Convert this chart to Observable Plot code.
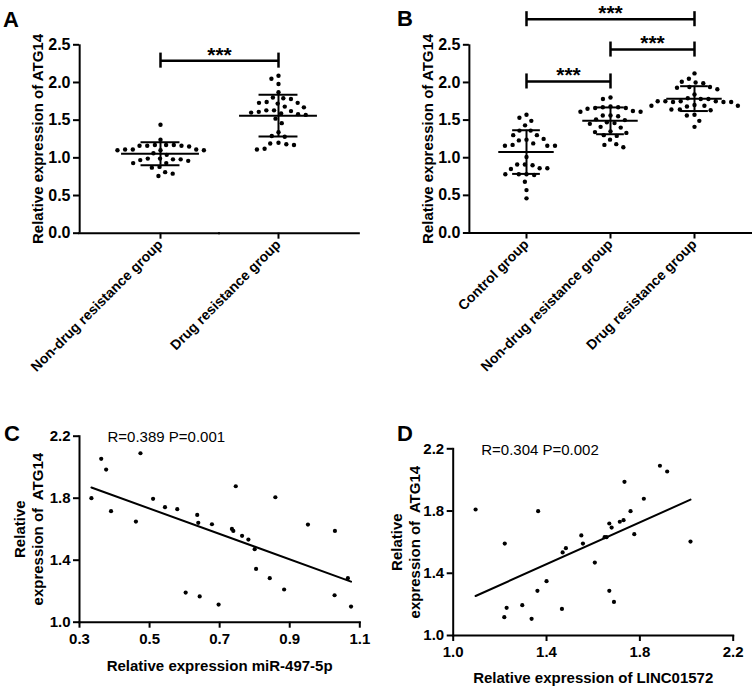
<!DOCTYPE html>
<html>
<head>
<meta charset="utf-8">
<script src="https://cdn.jsdelivr.net/npm/d3@7"></script>
<script src="https://cdn.jsdelivr.net/npm/@observablehq/plot@0.6"></script>
<style>
  body { margin: 0; background: #fff; }
  #root { position: relative; width: 752px; height: 686px; background: #fff; overflow: hidden;
          font-family: "Liberation Sans", Arial, Helvetica, sans-serif; }
  .panel { position: absolute; }
  .letter { position: absolute; font-weight: bold; font-size: 22px; line-height: 1; color: #000; }
</style>
</head>
<body>
<div id="root"></div>
<script>
// ---------------- DATA ----------------
// Panel A
const groupsA = ["Non-drug resistance group", "Drug resistance group"];
const nonDrugA = [1.44, 1.24, 1.17, 1.17, 1.17, 1.16, 1.16, 1.16, 1.15, 1.11, 1.11, 1.11, 1.10, 1.10, 1.10,
                  1.06, 1.04, 0.99, 0.99, 0.98, 0.98, 0.97, 0.96, 0.93, 0.93, 0.88, 0.87, 0.81, 0.79, 0.76];
const drugA = [2.09, 2.05, 1.98, 1.87, 1.80, 1.79, 1.78, 1.74, 1.73, 1.73, 1.72, 1.68, 1.67, 1.63, 1.63, 1.62,
               1.61, 1.60, 1.59, 1.58, 1.57, 1.52, 1.46, 1.34, 1.29, 1.28, 1.20, 1.19, 1.18, 1.17, 1.12, 1.11];
const meanA = [1.055, 1.56];
const sdA = [0.152, 0.277];
const sigFromA = [0];
const sigToA = [1];
const sigYA = [2.29];
const sigLabelA = ["***"];

// Panel B
const groupsB = ["Control group", "Non-drug resistance group", "Drug resistance group"];
const controlB = [1.57, 1.53, 1.49, 1.43, 1.36, 1.36, 1.30, 1.30, 1.24, 1.23, 1.25, 1.19, 1.17, 1.16, 1.16,
                  1.16, 1.01, 0.91, 0.90, 0.91, 0.86, 0.85, 0.86, 0.78, 0.78, 0.77, 0.78, 0.68, 0.57, 0.46];
const nonDrugB = [1.80, 1.78, 1.68, 1.67, 1.67, 1.66, 1.66, 1.65, 1.62, 1.61, 1.61, 1.56, 1.56, 1.55, 1.51,
                  1.50, 1.47, 1.46, 1.45, 1.41, 1.40, 1.35, 1.34, 1.33, 1.30, 1.29, 1.24, 1.18, 1.17, 1.14];
const drugB = [2.12, 2.05, 2.00, 1.99, 2.01, 1.94, 1.94, 1.93, 1.91, 1.84, 1.79, 1.78, 1.78, 1.75, 1.75, 1.74,
               1.74, 1.75, 1.74, 1.75, 1.70, 1.69, 1.69, 1.68, 1.69, 1.64, 1.63, 1.64, 1.57, 1.56, 1.49, 1.41];
const meanB = [1.075, 1.49, 1.785];
const sdB = [0.29, 0.178, 0.165];
const sigFromB = [0, 1, 0];
const sigToB = [2, 2, 1];
const sigYB = [2.84, 2.437, 2.013];
const sigLabelB = ["***", "***", "***"];

const yTicksAB = [0, 0.5, 1, 1.5, 2, 2.5];
const yLabelAB = "Relative expression of ATG14";

// Panel C
const cX = [0.334, 0.362, 0.376, 0.390, 0.474, 0.461, 0.510, 0.544, 0.579, 0.636, 0.639, 0.678, 0.735, 0.739, 0.746,
            0.764, 0.782, 0.800, 0.804, 0.859, 0.843, 0.884, 0.952, 1.029, 1.066, 1.028, 1.075, 0.603, 0.643, 0.697];
const cY = [1.800, 2.054, 1.985, 1.716, 2.090, 1.649, 1.796, 1.742, 1.729, 1.692, 1.641, 1.632, 1.602, 1.589, 1.877,
            1.557, 1.533, 1.471, 1.344, 1.806, 1.284, 1.211, 1.630, 1.589, 1.284, 1.174, 1.101, 1.191, 1.166, 1.114];
const cXTicks = [0.3, 0.5, 0.7, 0.9, 1.1];
const cYTicks = [1.0, 1.4, 1.8, 2.2];
const cXLabel = "Relative expression miR-497-5p";
const cStat = "R=0.389 P=0.001";

// Panel D
const dX = [1.096, 1.221, 1.219, 1.229, 1.296, 1.336, 1.364, 1.361, 1.400, 1.469, 1.483, 1.466, 1.549, 1.556, 1.607,
            1.649, 1.657, 1.669, 1.679, 1.714, 1.730, 1.734, 1.760, 1.776, 1.817, 1.886, 1.917, 2.017, 1.669, 1.689];
const dY = [1.810, 1.591, 1.118, 1.178, 1.195, 1.107, 1.799, 1.287, 1.349, 1.534, 1.561, 1.171, 1.643, 1.591, 1.469,
            1.632, 1.632, 1.720, 1.694, 1.731, 1.741, 1.988, 1.799, 1.651, 1.879, 2.091, 2.054, 1.604, 1.287, 1.216];
const dXTicks = [1.0, 1.4, 1.8, 2.2];
const dYTicks = [1.0, 1.4, 1.8, 2.2];
const dXLabel = "Relative expression of LINC01572";
const dStat = "R=0.304 P=0.002";

const yLabelCD = "Relative\nexpression of\u00a0 ATG14";

// ---------------- RENDERING ----------------
const FONT = '"Liberation Sans", Arial, Helvetica, sans-serif';
const root = document.getElementById("root");

function place(node, left, top) {
  node.classList.add("panel");
  node.style.left = left + "px";
  node.style.top = top + "px";
  root.appendChild(node);
}
function letter(txt, left, top) {
  const d = document.createElement("div");
  d.className = "letter";
  d.textContent = txt;
  d.style.left = left + "px";
  d.style.top = top + "px";
  root.appendChild(d);
}

function groupPanel(cfg) {
  const {groups, values, means, sds, sigFrom, sigTo, sigY, sigLabel,
         width, height, marginLeft, marginRight, marginTop, marginBottom, paddingOuter} = cfg;
  const n = groups.length;
  const dots = groups.flatMap((g, i) => values[i].map(v => ({group: g, value: v})));
  const summary = groups.map((g, i) => ({group: g, mean: means[i], sd: sds[i]}));
  const sig = sigFrom.map((f, k) => ({
    group: groups[f], x1: 0.5, x2: 0.5 + (sigTo[k] - f), xm: 0.5 + (sigTo[k] - f) / 2,
    y: sigY[k], label: sigLabel[k]
  }));
  // axis lines, expressed in facet-band units (band = 1 step, outer padding = paddingOuter steps)
  const baseLine = groups.map((g, i) => ({group: g,
    x1: i === 0 ? -paddingOuter : 0, x2: i === n - 1 ? 1 + paddingOuter : 1}));
  const leftLine = [{group: groups[0], x: -paddingOuter}];
  const titleRow = [{group: groups[0], label: yLabelAB}];
  const W = width - marginLeft - marginRight;
  const step = W / (n + 2 * paddingOuter);
  const axisShift = -paddingOuter * step;
  const MH = 0.33, SH = 0.165, TK = 0.1;
  return Plot.plot({
    width, height, marginLeft, marginRight, marginTop, marginBottom,
    style: {fontFamily: FONT, color: "#000", background: "transparent", overflow: "visible"},
    fx: {domain: groups, paddingInner: 0, paddingOuter, axis: null},
    x: {domain: [0, 1], axis: null},
    y: {domain: [0, 2.5], axis: null},
    marks: [
      Plot.ruleX(leftLine, {fx: "group", x: "x", y1: () => 0, y2: () => 2.5, strokeWidth: 2}),
      Plot.ruleY(baseLine, {fx: "group", y: () => 0, x1: "x1", x2: "x2", strokeWidth: 2, strokeLinecap: "square"}),
      Plot.axisY({ticks: yTicksAB, tickFormat: d => d.toFixed(1), tickSize: 6, tickPadding: 3,
                  strokeWidth: 2, fontSize: 16, fontWeight: "bold", dx: axisShift, label: null}),
      Plot.text(titleRow, {fx: "group", text: "label", frameAnchor: "left", rotate: -90,
                           textAnchor: "middle", lineAnchor: "top", dx: axisShift - 47,
                           fontSize: 15, fontWeight: "bold"}),
      Plot.axisFx({anchor: "bottom", tickRotate: -45, tickSize: 6, tickPadding: 3, strokeWidth: 2,
                   fontSize: 14, fontWeight: "bold", label: null}),
      Plot.dot(dots, Plot.dodgeX({anchor: "middle", padding: 3.3},
                                 {fx: "group", y: "value", r: 2.2, fill: "#000"})),
      Plot.ruleY(summary, {fx: "group", y: "mean", x1: () => 0.5 - MH, x2: () => 0.5 + MH, strokeWidth: 2}),
      Plot.ruleY(summary, {fx: "group", y: d => d.mean + d.sd, x1: () => 0.5 - SH, x2: () => 0.5 + SH, strokeWidth: 2}),
      Plot.ruleY(summary, {fx: "group", y: d => d.mean - d.sd, x1: () => 0.5 - SH, x2: () => 0.5 + SH, strokeWidth: 2}),
      Plot.ruleX(summary, {fx: "group", x: () => 0.5, y1: d => d.mean - d.sd, y2: d => d.mean + d.sd, strokeWidth: 2}),
      Plot.ruleY(sig, {fx: "group", y: "y", x1: "x1", x2: "x2", strokeWidth: 2.5}),
      Plot.ruleX(sig, {fx: "group", x: "x1", y1: d => d.y - TK, y2: d => d.y + TK, strokeWidth: 2.5}),
      Plot.ruleX(sig, {fx: "group", x: "x2", y1: d => d.y - TK, y2: d => d.y + TK, strokeWidth: 2.5}),
      Plot.text(sig, {fx: "group", x: "xm", y: "y", text: "label", dy: -14, lineAnchor: "top",
                      fontSize: 21, fontWeight: "bold"})
    ]
  });
}

function scatterPanel(cfg) {
  const {xs, ys, xDomain, yDomain, xTicks, yTicks, xLabel, stat,
         width, height, marginLeft, marginRight, marginTop, marginBottom, yLabelDx, xLabelOffset} = cfg;
  const pts = xs.map((x, i) => ({x, y: ys[i]}));
  return Plot.plot({
    width, height, marginLeft, marginRight, marginTop, marginBottom,
    style: {fontFamily: FONT, color: "#000", background: "transparent", overflow: "visible"},
    x: {domain: xDomain},
    y: {domain: yDomain},
    marks: [
      Plot.frame({anchor: "left", strokeWidth: 2}),
      Plot.frame({anchor: "bottom", strokeWidth: 2}),
      Plot.axisX({ticks: xTicks, tickFormat: d => d.toFixed(1), tickSize: 6, tickPadding: 5, strokeWidth: 2,
                  fontSize: 15, fontWeight: "bold",
                  label: xLabel, labelAnchor: "center", labelOffset: xLabelOffset, labelArrow: "none"}),
      Plot.axisY({ticks: yTicks, tickFormat: d => d.toFixed(1), tickSize: 6, tickPadding: 3, strokeWidth: 2,
                  fontSize: 15, fontWeight: "bold", label: null}),
      Plot.text([yLabelCD], {frameAnchor: "left", rotate: -90, dx: yLabelDx, textAnchor: "middle",
                             lineAnchor: "top", lineHeight: 1.2, fontSize: 15, fontWeight: "bold"}),
      Plot.linearRegressionY(pts, {x: "x", y: "y", ci: 0, stroke: "#000", strokeWidth: 2}),
      Plot.dot(pts, {x: "x", y: "y", r: 2.1, fill: "#000"}),
      Plot.text([stat], {frameAnchor: "top-left", dx: 28, dy: 1, lineAnchor: "middle", textAnchor: "start",
                         fontSize: 15, fontWeight: "normal"})
    ]
  });
}

const A = groupPanel({
  groups: groupsA, values: [nonDrugA, drugA], means: meanA, sds: sdA,
  sigFrom: sigFromA, sigTo: sigToA, sigY: sigYA, sigLabel: sigLabelA,
  width: 376, height: 390, marginLeft: 78, marginRight: 16, marginTop: 44.3, marginBottom: 157.3,
  paddingOuter: 0.185
});
place(A, 0, 0);

const B = groupPanel({
  groups: groupsB, values: [controlB, nonDrugB, drugB], means: meanB, sds: sdB,
  sigFrom: sigFromB, sigTo: sigToB, sigY: sigYB, sigLabel: sigLabelB,
  width: 376, height: 390, marginLeft: 92.7, marginRight: 1, marginTop: 44.3, marginBottom: 157.5,
  paddingOuter: 0.18
});
place(B, 376, 0);

const C = scatterPanel({
  xs: cX, ys: cY, xDomain: [0.3, 1.1], yDomain: [1.0, 2.2], xTicks: cXTicks, yTicks: cYTicks,
  xLabel: cXLabel, stat: cStat,
  width: 376, height: 296, marginLeft: 79, marginRight: 16.7, marginTop: 45.7, marginBottom: 64.3,
  yLabelDx: -67, xLabelOffset: 49
});
place(C, 0, 390);

const D = scatterPanel({
  xs: dX, ys: dY, xDomain: [1.0, 2.2], yDomain: [1.0, 2.2], xTicks: dXTicks, yTicks: dYTicks,
  xLabel: dXLabel, stat: dStat,
  width: 376, height: 296, marginLeft: 76.7, marginRight: 19.3, marginTop: 58.3, marginBottom: 51,
  yLabelDx: -64, xLabelOffset: 47
});
place(D, 376, 390);

letter("A", 3, 9);
letter("B", 397, 8);
letter("C", 4, 423);
letter("D", 397, 423);
</script>
</body>
</html>
